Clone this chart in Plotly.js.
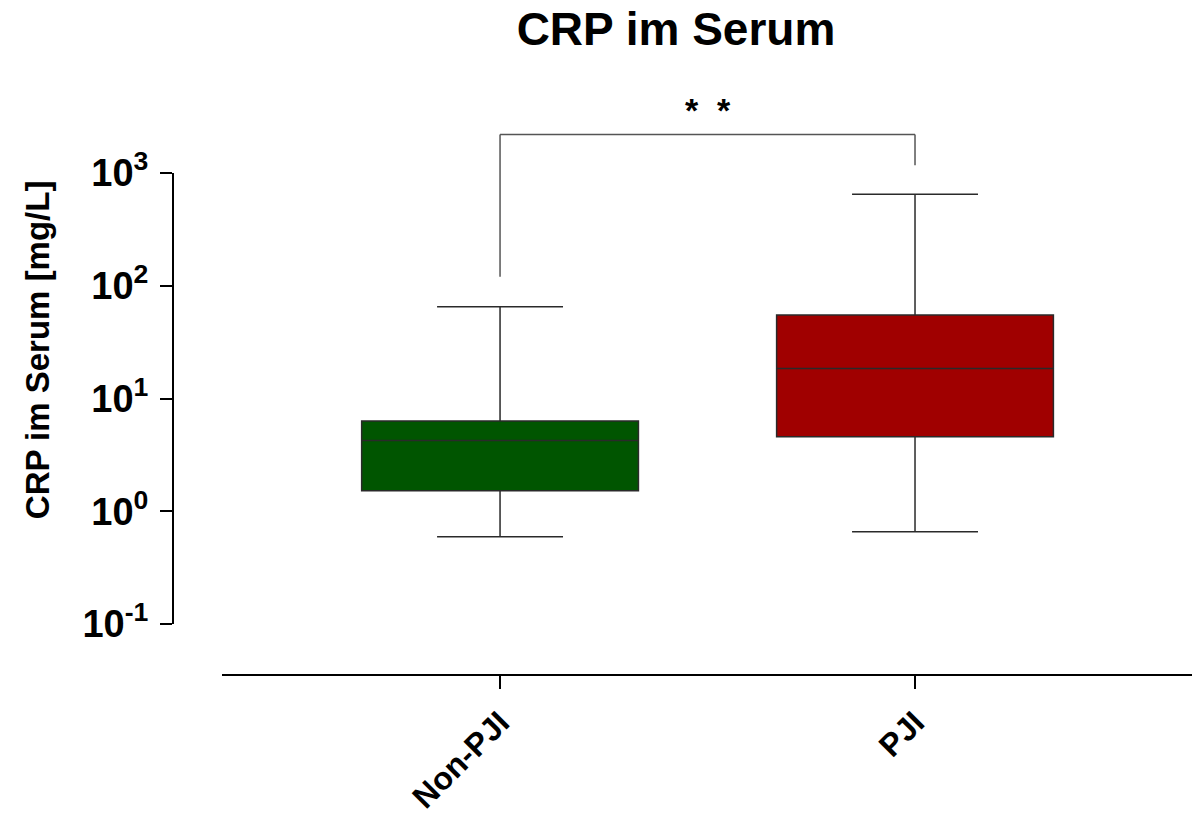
<!DOCTYPE html>
<html>
<head>
<meta charset="utf-8">
<script src="https://cdn.plot.ly/plotly-3.0.1.min.js"></script>
<style>
  html, body { margin: 0; padding: 0; background: #fff; }
  #chart { width: 1192px; height: 820px; }
</style>
</head>
<body>
<div id="chart"></div>
<script>
// ---- data ----
const categories   = ['Non-PJI', 'PJI'];
const lowerWhisker = [0.594, 0.658];
const q1Values     = [1.52, 4.57];
const medians      = [4.25, 18.5];
const q3Values     = [6.3, 54.9];
const upperWhisker = [65.0, 649];
const tickValues   = [0.1, 1, 10, 100, 1000];
const tickLabels   = ['10<sup>-1</sup>', '10<sup>0</sup>', '10<sup>1</sup>', '10<sup>2</sup>', '10<sup>3</sup>'];
const significance = '*  *';
// significance bracket levels (data units): left foot, right foot, top bar, star label
const bracketLeftFoot  = 120;
const bracketRightFoot = 1170;
const bracketTop       = 2200;
const starLevel        = 3600;

// ---- styling ----
const FONT = 'Liberation Sans, Arial, Helvetica, sans-serif';
const fills = ['#005500', '#a00000'];

const xRange = [-0.67, 1.6675];
const yRange = [-1, 3];
const xDomain = [0.0481, 1];
const yDomain = [0.1016, 1];

const traces = categories.map((c, i) => ({
  type: 'box',
  name: c,
  x: [c],
  q1: [q1Values[i]],
  median: [medians[i]],
  q3: [q3Values[i]],
  lowerfence: [lowerWhisker[i]],
  upperfence: [upperWhisker[i]],
  boxpoints: false,
  width: 0.667,
  whiskerwidth: 0.455,
  fillcolor: fills[i],
  line: { color: '#2a2a2a', width: 1.5 },
  hoverinfo: 'skip',
  showlegend: false
}));

// helpers converting data coords to paper coords (for bracket outside plot area)
function xPaper(idx) {
  return xDomain[0] + (idx - xRange[0]) / (xRange[1] - xRange[0]) * (xDomain[1] - xDomain[0]);
}
function yPaper(v) {
  return yDomain[0] + (Math.log10(v) - yRange[0]) / (yRange[1] - yRange[0]) * (yDomain[1] - yDomain[0]);
}

const bracketColor = '#555555';
const shapes = [
  { type: 'line', xref: 'paper', yref: 'paper', x0: xPaper(0), x1: xPaper(0), y0: yPaper(bracketLeftFoot), y1: yPaper(bracketTop), line: { color: bracketColor, width: 1.5 } },
  { type: 'line', xref: 'paper', yref: 'paper', x0: xPaper(0), x1: xPaper(1), y0: yPaper(bracketTop), y1: yPaper(bracketTop), line: { color: bracketColor, width: 1.5 } },
  { type: 'line', xref: 'paper', yref: 'paper', x0: xPaper(1), x1: xPaper(1), y0: yPaper(bracketRightFoot), y1: yPaper(bracketTop), line: { color: bracketColor, width: 1.5 } }
];

const annotations = [
  { xref: 'paper', yref: 'paper', x: (xPaper(0) + xPaper(1)) / 2, y: yPaper(starLevel),
    text: significance, showarrow: false, xanchor: 'center', yanchor: 'middle',
    font: { family: FONT, size: 34, color: '#000', weight: 'bold' } },
  { xref: 'paper', yref: 'paper', x: -0.1335, y: 0.649, textangle: -90,
    text: 'CRP im Serum [mg/L]', showarrow: false, xanchor: 'center', yanchor: 'middle',
    font: { family: FONT, size: 33, color: '#000', weight: 'bold' } }
];

const layout = {
  width: 1192,
  height: 820,
  paper_bgcolor: '#ffffff',
  plot_bgcolor: '#ffffff',
  margin: { l: 173, r: 0, t: 173, b: 145, pad: 0 },
  font: { family: FONT, color: '#000' },
  title: {
    text: 'CRP im Serum',
    font: { family: FONT, size: 46, color: '#000', weight: 'bold' },
    xref: 'paper', x: 0.4936, xanchor: 'center',
    yref: 'container', y: 0.965, yanchor: 'middle'
  },
  showlegend: false,
  boxmode: 'overlay',
  xaxis: {
    type: 'category',
    domain: xDomain,
    range: xRange,
    anchor: 'free',
    position: 0,
    showline: true, linecolor: '#000', linewidth: 2,
    ticks: 'outside', ticklen: 13, tickwidth: 2, tickcolor: '#000',
    tickangle: -45,
    ticklabelstandoff: 2,
    tickfont: { family: FONT, size: 32, color: '#000', weight: 'bold' },
    showgrid: false, zeroline: false, fixedrange: true
  },
  yaxis: {
    type: 'log',
    domain: yDomain,
    range: yRange,
    anchor: 'free',
    position: 0,
    showline: true, linecolor: '#000', linewidth: 2,
    ticks: 'outside', ticklen: 12, tickwidth: 2, tickcolor: '#000',
    tickmode: 'array', tickvals: tickValues, ticktext: tickLabels,
    ticklabelstandoff: 4,
    tickfont: { family: FONT, size: 38, color: '#000', weight: 'bold' },
    showgrid: false, zeroline: false, fixedrange: true
  },
  shapes: shapes,
  annotations: annotations
};

Plotly.newPlot('chart', traces, layout, { displayModeBar: false, staticPlot: true });
</script>
</body>
</html>
